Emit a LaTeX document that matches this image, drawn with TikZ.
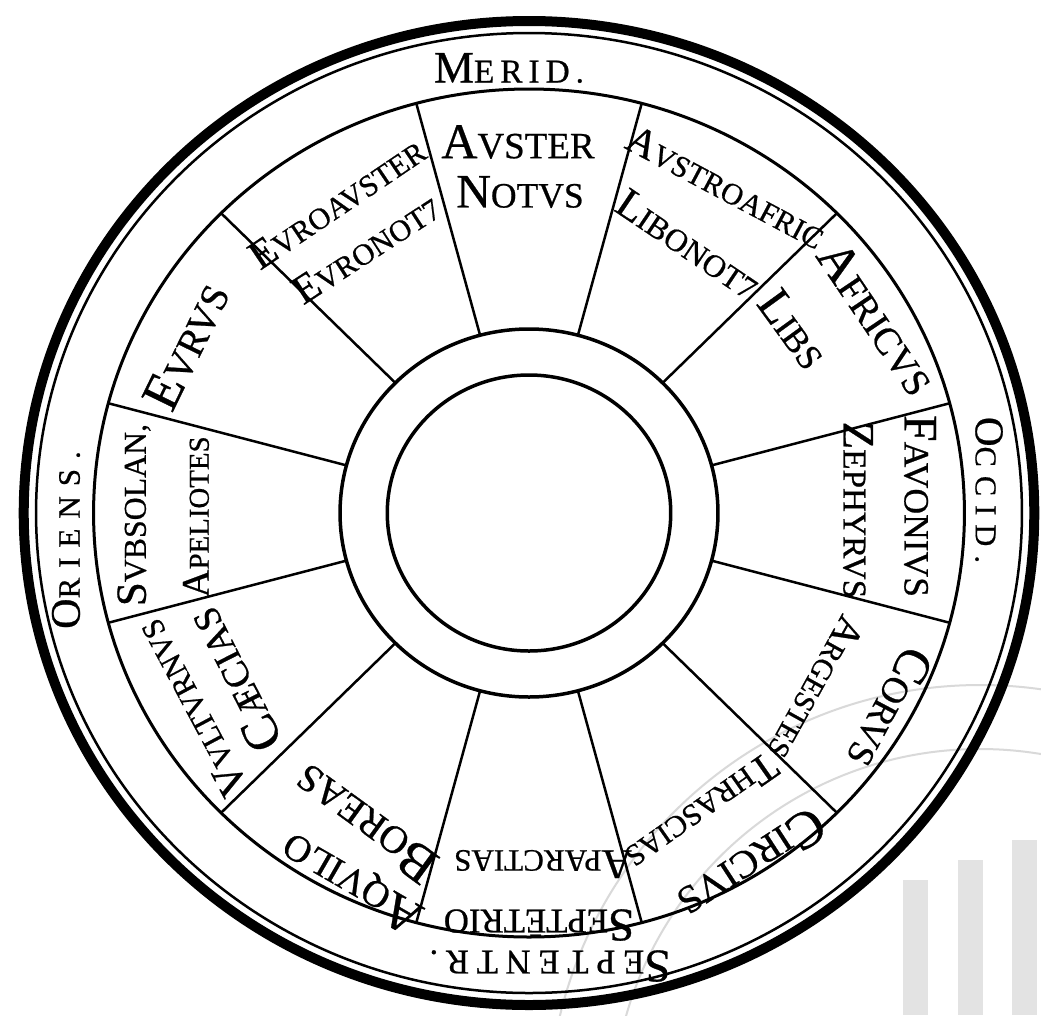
\documentclass[tikz,border=0pt]{standalone}
\usepackage{fontspec}
\setmainfont{Liberation Serif}[FakeBold=0.6]
\usetikzlibrary{positioning}
% capital + smaller capitals
\newcommand{\wn}[3][48]{{\fontsize{#1}{#1}\selectfont #2}{\fontsize{\fpeval{0.74*#1}}{#1}\selectfont #3}}
\tikzset{
  ring/.style={line width=3pt},
  spoke/.style={line width=2.5pt},
  stamp/.style={draw=gray!30, line width=2pt},
  lbl/.style={inner sep=0pt, anchor=center},
  dirlbl/.style={lbl, font=\addfontfeature{LetterSpace=#1}},
}

\begin{document}
\begin{tikzpicture}[x=1pt, y=1pt]
    \useasboundingbox[fill=white] (0,0) rectangle (1041,-1015);
    % Library stamp (faint)
    \begin{scope}
        \clip (0,0) rectangle (1041,-1015);
        \draw[stamp] (980,-1117) circle (432);
        \draw[stamp] (980,-1117) circle (368);
        \fill[gray!22] (903,-880) rectangle (928,-1015);
        \fill[gray!22] (958,-860) rectangle (983,-1015);
        \fill[gray!22] (1012,-840) rectangle (1037,-1015);
    \end{scope}
    % Circles
    \begin{scope}[shift={(529,-513)}, xscale=1.027]
        \draw[line width=10pt] (0,0) circle (492);
        \draw[line width=2.5pt] (0,0) circle (480);
        \draw[ring] (0,0) circle (424);
        \draw[line width=3.5pt] (0,0) circle (184);
        \draw[line width=3.5pt] (0,0) circle (138);
        % Spokes
        \foreach \a in {15,45,...,345}
            \draw[spoke] (\a:184) -- (\a:424);
    \end{scope}
    % Quarters
    \node[dirlbl=18] (merid) at (509,-68) {\wn[45]{M}{ERID.}};
    \node[dirlbl=30, rotate=-90] (occid) at (989,-490) {\wn[41]{O}{CCID.}};
    \node[dirlbl=22, rotate=180] (septentr) at (550,-966) {\wn[47]{S}{EPTENTR.}};
    \node[dirlbl=32, rotate=90] (oriens) at (66,-540) {\wn[42]{O}{RIENS.}};
    % Winds
    \node[lbl] (auster) at (518,-142) {\wn[50]{A}{VSTER}};
    \node[lbl] (notus) at (520,-192) {\wn[48]{N}{OTVS}};
    \node[lbl, rotate=34] (euroauster) at (337,-203) {\wn[41]{E}{VROAVSTER}};
    \node[lbl, rotate=33] (euronotus) at (366,-249) {\wn[41]{E}{VRONOT7}};
    \node[lbl, rotate=-28] (austroafr) at (726,-187) {\wn[41]{A}{VSTROAFRIC}};
    \node[lbl, rotate=-34] (libonotus) at (688,-244) {\wn[43]{L}{IBONOT7}};
    \node[lbl, rotate=-56] (africus) at (877,-318) {\wn[52]{A}{FRICVS}};
    \node[lbl, rotate=-54] (libs) at (793,-329) {\wn[48]{L}{IBS}};
    \node[lbl, rotate=-90] (favonius) at (920,-506) {\wn[48]{F}{AVONIVS}};
    \node[lbl, rotate=-90] (zephyrus) at (858,-510) {\wn[45]{Z}{EPHYRVS}};
    \node[lbl, rotate=-118] (corus) at (890,-708) {\wn[50]{C}{ORVS}};
    \node[lbl, rotate=-119] (argestes) at (816,-688) {\wn[40]{A}{RGESTES}};
    \node[lbl, rotate=-145] (thrascias) at (702,-812) {\wn[41]{T}{HRASCIAS}};
    \node[lbl, rotate=-147] (circius) at (752,-864) {\wn[53]{C}{IRCIVS}};
    \node[lbl, rotate=180] (aparctias) at (543,-864) {\wn[42]{A}{PARCTIAS}};
    \node[lbl, rotate=180] (septentrio) at (539,-925) {\wn[47]{S}{EPTĒTRIO}};
    \node[lbl, rotate=144] (boreas) at (365,-824) {\wn[53]{B}{OREAS}};
    \node[lbl, rotate=150] (aquilo) at (352,-882) {\wn[51]{A}{QVILO}};
    \node[lbl, rotate=118] (vulturnus) at (192,-708) {\wn[42]{V}{VLTVRNVS}};
    \node[lbl, rotate=117] (caecias) at (234,-680) {\wn[51]{C}{ÆCIAS}};
    \node[lbl, rotate=90] (subsolanus) at (134,-515) {\wn[43]{S}{VBSOLAN,}};
    \node[lbl, rotate=90] (apeliotes) at (196,-517) {\wn[39]{A}{PELIOTES}};
    \node[lbl, rotate=64] (eurus) at (186,-346) {\wn[53]{E}{VRVS}};
\end{tikzpicture}
\end{document}
